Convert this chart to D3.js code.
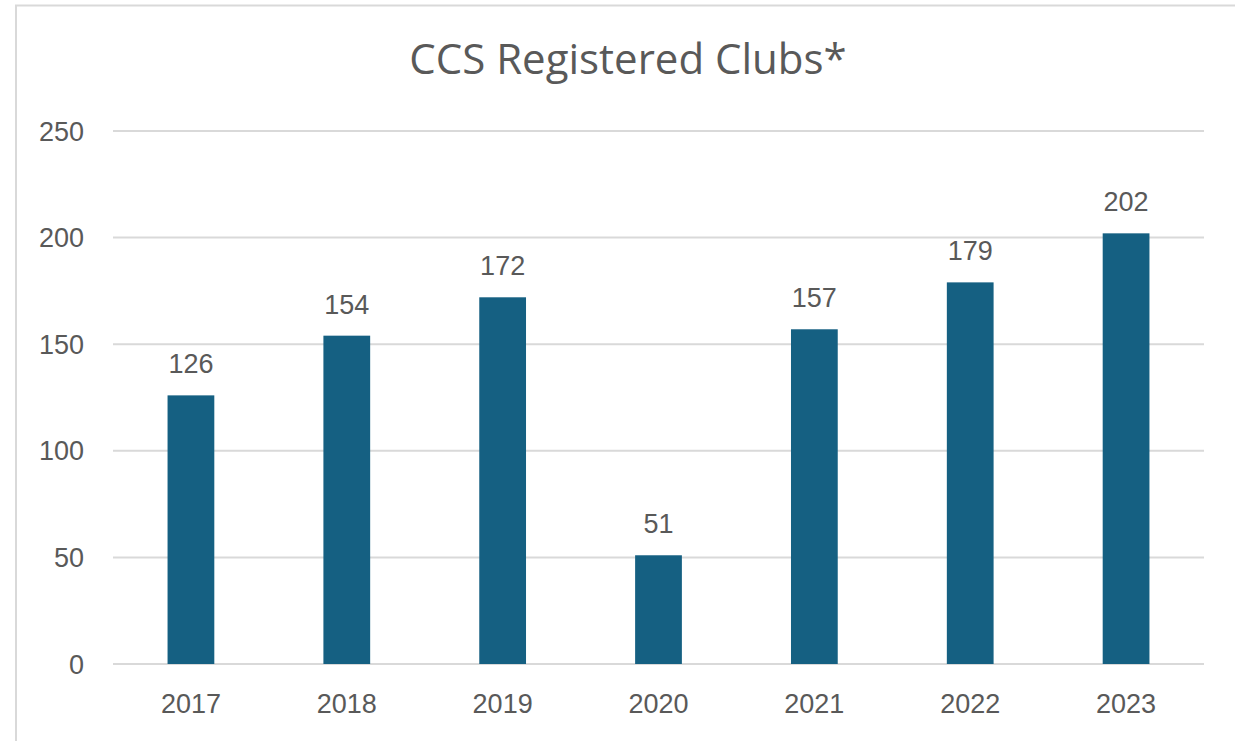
<!DOCTYPE html>
<html>
<head>
<meta charset="utf-8">
<script src="https://cdn.jsdelivr.net/npm/d3@7"></script>
<style>
  html, body { margin: 0; padding: 0; background: #fff; }
  svg { display: block; }
</style>
</head>
<body>
<script>
var years = ['2017', '2018', '2019', '2020', '2021', '2022', '2023'];
var clubs = [126, 154, 172, 51, 157, 179, 202];
var yTicks = [0, 50, 100, 150, 200, 250];

var w = 1235,
    h = 741;

var plotLeft = 113,
    plotRight = 1204,
    plotTop = 131,
    plotBottom = 664;

var textColor = '#595959',
    barColor = '#156082',
    gridColor = '#d9d9d9';

var svg = d3.select('body').append('svg')
  .attr('width', w)
  .attr('height', h);

// chart frame, runs off the right and bottom edges
svg.append('rect')
  .attr('x', 16)
  .attr('y', 5.5)
  .attr('width', w + 20)
  .attr('height', h + 20)
  .attr('fill', '#fff')
  .attr('stroke', '#d9d9d9')
  .attr('stroke-width', 2);

var x = d3.scaleBand()
  .domain(years)
  .range([plotLeft, plotRight])
  .paddingInner(0.7)
  .paddingOuter(0.35);

var y = d3.scaleLinear()
  .domain([0, 250])
  .range([plotBottom, plotTop]);

// gridlines
svg.append('g').selectAll('.grid')
  .data(yTicks)
  .enter()
  .append('line')
    .attr('x1', plotLeft)
    .attr('x2', plotRight)
    .attr('y1', function(d) { return y(d); })
    .attr('y2', function(d) { return y(d); })
    .attr('stroke', gridColor)
    .attr('stroke-width', 2);

// bars
svg.append('g').selectAll('.bar')
  .data(clubs)
  .enter()
  .append('rect')
    .attr('x', function(d, i) { return x(years[i]); })
    .attr('y', function(d) { return y(d); })
    .attr('width', x.bandwidth())
    .attr('height', function(d) { return y(0) - y(d); })
    .attr('fill', barColor);

// value labels
svg.append('g').selectAll('.value')
  .data(clubs)
  .enter()
  .append('text')
    .text(function(d) { return d; })
    .attr('x', function(d, i) { return x(years[i]) + x.bandwidth() / 2; })
    .attr('y', function(d) { return y(d) - 22; })
    .attr('text-anchor', 'middle');

// y axis labels
svg.append('g').selectAll('.ylabel')
  .data(yTicks)
  .enter()
  .append('text')
    .text(function(d) { return d; })
    .attr('x', 84)
    .attr('y', function(d) { return y(d) + 9.5; })
    .attr('text-anchor', 'end');

// x axis labels
svg.append('g').selectAll('.xlabel')
  .data(years)
  .enter()
  .append('text')
    .text(function(d) { return d; })
    .attr('x', function(d) { return x(d) + x.bandwidth() / 2; })
    .attr('y', 713)
    .attr('text-anchor', 'middle');

svg.selectAll('text')
  .style('font-family', '"Liberation Sans", Arial, sans-serif')
  .style('font-size', '27px')
  .attr('fill', textColor);

svg.append('text')
  .text('CCS Registered Clubs*')
  .attr('x', 628)
  .attr('y', 74)
  .attr('text-anchor', 'middle')
  .attr('fill', textColor)
  .style('font-family', '"Open Sans", "Noto Sans", sans-serif')
  .style('font-size', '42px');
</script>
</body>
</html>
